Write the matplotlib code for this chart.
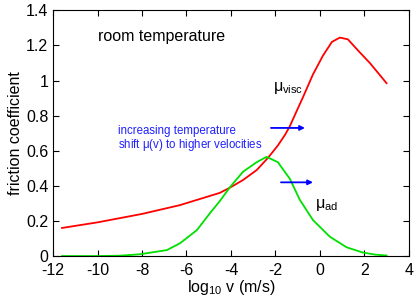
import numpy as np
import matplotlib
matplotlib.use("Agg")
import matplotlib.pyplot as plt

plt.rcParams['font.family'] = ['Liberation Sans', 'DejaVu Sans']
plt.rcParams['mathtext.fontset'] = 'custom'
plt.rcParams['mathtext.rm'] = 'Liberation Sans'
plt.rcParams['mathtext.it'] = 'Liberation Sans'
plt.rcParams['axes.unicode_minus'] = False

# viscous friction curve (red)
visc_x = [-11.6, -10.0, -8.0, -6.3, -5.4, -4.5, -4.04, -3.46, -2.84, -2.33, -1.89, -1.57, -1.35,
          -1.03, -0.76, -0.31, 0.13, 0.54, 0.9, 1.26, 1.8, 2.25, 3.0]
visc_y = [0.16, 0.192, 0.24, 0.29, 0.325, 0.36, 0.39, 0.433, 0.49, 0.56, 0.63, 0.69, 0.74,
          0.83, 0.905, 1.035, 1.14, 1.22, 1.245, 1.235, 1.16, 1.10, 0.985]

# adhesive friction curve (green)
ad_x = [-11.6, -10.0, -9.0, -8.1, -6.88, -6.29, -5.53, -4.94, -4.49, -4.04, -3.46, -2.84, -2.4,
        -1.89, -1.35, -0.9, -0.31, 0.45, 1.2, 1.93, 2.5, 3.0]
ad_y = [0.0, 0.0, 0.002, 0.01, 0.034, 0.073, 0.148, 0.245, 0.315, 0.393, 0.48, 0.535, 0.565,
        0.535, 0.44, 0.32, 0.205, 0.11, 0.05, 0.02, 0.008, 0.003]

fig, ax = plt.subplots(figsize=(4.15, 2.96), dpi=100)
fig.subplots_adjust(left=0.128, right=0.985, top=0.965, bottom=0.135)

ax.plot(visc_x, visc_y, color='#ff0000', lw=1.3)
ax.plot(ad_x, ad_y, color='#00e000', lw=1.3)

# arrows
for x0, x1, y in [(-2.2, -0.67, 0.73), (-1.75, -0.31, 0.42)]:
    ax.annotate('', xy=(x1, y), xytext=(x0, y),
                arrowprops=dict(arrowstyle='-|>', color='#0000ff', lw=1.3,
                                mutation_scale=7, shrinkA=0, shrinkB=0))

ax.text(-10.0, 1.25, 'room temperature', fontsize=11.5, va='center')
ax.text(-2.1, 0.96, r'$\mu_{\rm visc}$', fontsize=11.5, va='center')
ax.text(-0.2, 0.29, r'$\mu_{\rm ad}$', fontsize=11.5, va='center')
ax.text(-9.1, 0.71, 'increasing temperature', fontsize=8.3, color='#2020ff', va='center')
ax.text(-9.1, 0.63, r'shift $\mu$(v) to higher velocities', fontsize=8.3, color='#2020ff', va='center')

ax.set_xlim(-12, 4)
ax.set_ylim(0, 1.4)
ax.set_xticks(np.arange(-12, 5, 2))
ax.set_yticks([0, 0.2, 0.4, 0.6, 0.8, 1, 1.2, 1.4])
ax.set_yticklabels(['0', '0.2', '0.4', '0.6', '0.8', '1', '1.2', '1.4'])
ax.tick_params(direction='in', top=True, right=True, labelsize=11.5, length=4)
ax.tick_params(axis='x', pad=5)
ax.set_xlabel(r'log$_{10}$ v (m/s)', fontsize=11.5, labelpad=0)
ax.set_ylabel('friction coefficient', fontsize=11.5, labelpad=2)

fig.savefig('out.png', dpi=100)
